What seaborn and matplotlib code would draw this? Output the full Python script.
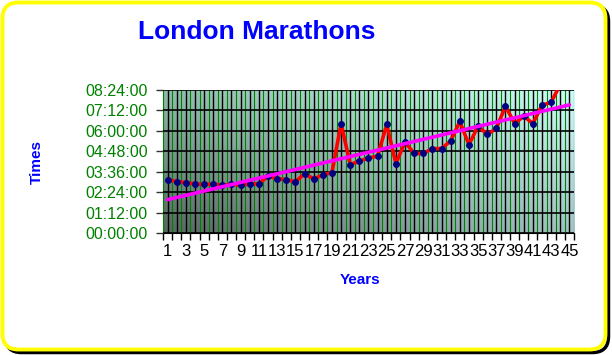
import numpy as np
import pandas as pd
import matplotlib
matplotlib.use("Agg")
import matplotlib.pyplot as plt
import seaborn as sns
from matplotlib.patches import FancyBboxPatch
from matplotlib.colors import to_rgb

# --- data (finish times in hours) ---
years = list(range(1, 46))
times_h = [3.14, 3.02, 2.96, 2.88, 2.85, 2.88, 2.79, 2.88, 2.79, 2.88,
           2.88, 3.35, 3.18, 3.14, 3.00, 3.49, 3.18, 3.41, 3.55, 6.43,
           4.02, 4.22, 4.41, 4.52, 6.38, 4.08, 5.34, 4.67, 4.67, 4.96,
           4.96, 5.41, 6.55, 5.18, 6.28, 5.79, 6.14, 7.45, 6.43, 6.86,
           6.43, 7.51, 7.67, 8.73, 10.10]
y_ticks = [0, 1.2, 2.4, 3.6, 4.8, 6.0, 7.2, 8.4]
x_labels = [str(y) if y % 2 == 1 else "" for y in years]


def hms(h):
    m = int(round(h * 60))
    return f"{m // 60:02d}:{m % 60:02d}:00"


df = pd.DataFrame({"Year": years, "Time": times_h})

sns.set_style("white")
plt.rcParams["font.family"] = ["Liberation Sans", "DejaVu Sans"]

fig = plt.figure(figsize=(6.12, 3.55), dpi=100)
fig.patch.set_facecolor("white")

# rounded yellow frame with dark shadow
shadow = FancyBboxPatch((0.055, 0.025), 6.03, 3.47,
                        boxstyle="round,pad=0,rounding_size=0.16",
                        transform=fig.dpi_scale_trans, fc="none",
                        ec="black", lw=2.5, zorder=0)
frame = FancyBboxPatch((0.025, 0.055), 6.03, 3.47,
                       boxstyle="round,pad=0,rounding_size=0.16",
                       transform=fig.dpi_scale_trans, fc="white",
                       ec="#FFFF00", lw=2.8, zorder=1)
fig.patches.extend([shadow, frame])

ax = fig.add_axes([0.2663, 0.3437, 0.6716, 0.4028])
ax.set_zorder(2)

# gradient plot area
n = 200
u, v = np.meshgrid(np.linspace(0, 1, n), np.linspace(0, 1, n))
bl, tl, tr, br = (np.array(to_rgb(c)) for c in ("#56645f", "#92bcad", "#cdfcf6", "#a3c3c3"))
img = (bl * ((1 - u) * (1 - v))[..., None] + br * (u * (1 - v))[..., None]
       + tl * ((1 - u) * v)[..., None] + tr * (u * v)[..., None])
ax.imshow(img, origin="lower", extent=(0.5, 45.5, 0, 8.4), aspect="auto",
          interpolation="bilinear", zorder=0)

sns.lineplot(data=df, x="Year", y="Time", ax=ax, color="red", lw=2.6,
             marker="o", markersize=4.2, markerfacecolor="#000080",
             markeredgecolor="#000080", zorder=3)
sns.regplot(data=df, x="Year", y="Time", ax=ax, scatter=False, ci=None,
            line_kws=dict(color="#FF00FF", lw=2.6, zorder=4))

ax.set_xlim(0.5, 45.5)
ax.set_ylim(0, 8.4)

ax.set_xticks(years)
ax.set_xticklabels(x_labels)
ax.set_xticks(np.arange(0.5, 46, 1), minor=True)
ax.tick_params(axis="x", which="major", length=0, pad=8, labelsize=12,
               labelcolor="black")
ax.tick_params(axis="x", which="minor", length=5, width=1, color="black",
               bottom=True)
ax.set_yticks(y_ticks)
ax.set_yticklabels([hms(t) for t in y_ticks])
ax.tick_params(axis="y", length=5, width=1, color="#333333", pad=6,
               labelsize=11.5, labelcolor="#008000", left=True)

ax.grid(axis="x", which="minor", color="#008000", lw=0.8, zorder=1)
ax.grid(axis="x", which="major", color="black", lw=1, zorder=1)
ax.grid(axis="y", which="major", color="black", lw=1.2, zorder=1)
ax.set_axisbelow(False)
for line in ax.get_xgridlines() + ax.get_ygridlines():
    line.set_zorder(1)

for side in ("top", "right"):
    ax.spines[side].set_visible(False)
ax.spines["left"].set_color("#008000")
ax.spines["bottom"].set_color("black")

ax.set_xlabel("")
ax.set_ylabel("")

fig.text(0.42, 0.91, "London Marathons", color="#0000FF",
         fontsize=19, fontweight="bold", ha="center", va="center")
fig.text(0.06, 0.5445, "Times", color="#0000FF", fontsize=11,
         fontweight="bold", rotation=90, ha="center", va="center")
fig.text(0.588, 0.211, "Years", color="#0000FF", fontsize=11,
         fontweight="bold", ha="center", va="center")

fig.savefig("out.png", dpi=100)
